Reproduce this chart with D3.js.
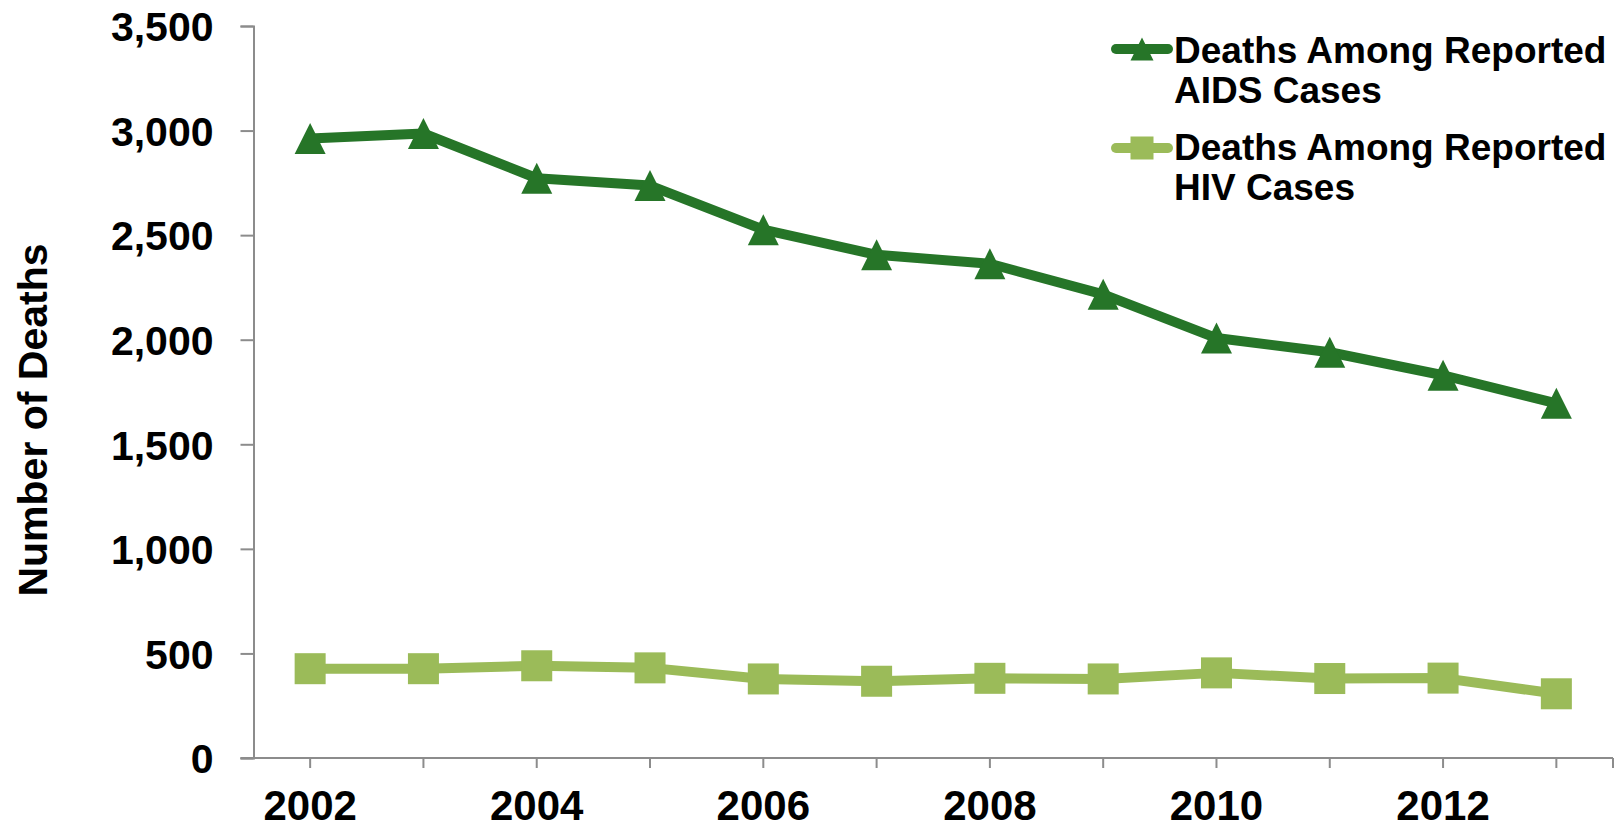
<!DOCTYPE html>
<html>
<head>
<meta charset="utf-8">
<script src="https://cdn.jsdelivr.net/npm/d3@7"></script>
<style>
  html, body { margin: 0; padding: 0; background: #fff; }
  svg { display: block; }
  text { font-family: "Liberation Sans", Arial, sans-serif; font-weight: bold; fill: #000; }
</style>
</head>
<body>
<svg id="chart" width="1620" height="829"></svg>
<script>
const years = [2002, 2003, 2004, 2005, 2006, 2007, 2008, 2009, 2010, 2011, 2012, 2013];
const aidsDeaths = [2962, 2986, 2772, 2737, 2526, 2406, 2363, 2217, 2008, 1940, 1830, 1696];
const hivDeaths = [427, 427, 441, 431, 378, 367, 381, 378, 407, 380, 382, 307];
const yTicks = [0, 500, 1000, 1500, 2000, 2500, 3000, 3500];
const xLabelYears = [2002, 2004, 2006, 2008, 2010, 2012];
const seriesNames = [["Deaths Among Reported", "AIDS Cases"], ["Deaths Among Reported", "HIV Cases"]];
const yTitle = "Number of Deaths";

const colors = { aids: "#267528", hiv: "#9bbb59", axis: "#8c8c8c" };

const svg = d3.select("#chart");
const plot = { left: 253.5, right: 1613, top: 26, bottom: 758 };

const x = d3.scaleBand().domain(years).range([plot.left, plot.right]).padding(0);
const cx = d => x(d) + x.bandwidth() / 2;
const y = d3.scaleLinear().domain([0, 3500]).range([plot.bottom, plot.top]);

// Y axis
const yAxis = d3.axisLeft(y).tickValues(yTicks).tickSize(13).tickFormat(d3.format(","));
const gy = svg.append("g").attr("transform", `translate(${plot.left},0)`).call(yAxis);
gy.select(".domain").attr("stroke", colors.axis).attr("stroke-width", 2);
gy.selectAll(".tick line").attr("stroke", colors.axis).attr("stroke-width", 2);
gy.selectAll(".tick text")
  .attr("x", -40).attr("dy", "0.36em")
  .style("font-size", "41px").attr("fill", "#000");

// X axis
const gx = svg.append("g").attr("transform", `translate(0,${plot.bottom})`);
gx.append("line").attr("x1", plot.left - 13).attr("x2", plot.right)
  .attr("y1", 0).attr("y2", 0).attr("stroke", colors.axis).attr("stroke-width", 2);
const tickXs = years.map(cx).concat([plot.right]);
gx.selectAll("line.xt").data(tickXs).enter().append("line").attr("class", "xt")
  .attr("x1", d => d).attr("x2", d => d).attr("y1", 0).attr("y2", 10)
  .attr("stroke", colors.axis).attr("stroke-width", 2);
gx.selectAll("text.xl").data(xLabelYears).enter().append("text").attr("class", "xl")
  .attr("x", d => cx(d)).attr("y", 62).attr("text-anchor", "middle")
  .style("font-size", "42px").text(d => d);

// Y title
svg.append("text")
  .attr("transform", `translate(47,420) rotate(-90)`)
  .attr("text-anchor", "middle")
  .style("font-size", "41px")
  .text(yTitle);

const line = d3.line().x((d, i) => cx(years[i])).y(d => y(d));

function triPath(s) {
  const h = s;
  return `M0,${-h/2} L${s/2},${h/2} L${-s/2},${h/2} Z`;
}

// HIV series
svg.append("path").datum(hivDeaths).attr("d", line)
  .attr("fill", "none").attr("stroke", colors.hiv).attr("stroke-width", 10)
  .attr("stroke-linejoin", "round");
svg.selectAll("rect.hiv").data(hivDeaths).enter().append("rect").attr("class", "hiv")
  .attr("x", (d, i) => cx(years[i]) - 15.5).attr("y", d => y(d) - 15.5)
  .attr("width", 31).attr("height", 31).attr("fill", colors.hiv);

// AIDS series
svg.append("path").datum(aidsDeaths).attr("d", line)
  .attr("fill", "none").attr("stroke", colors.aids).attr("stroke-width", 10)
  .attr("stroke-linejoin", "round");
svg.selectAll("path.aids").data(aidsDeaths).enter().append("path").attr("class", "aids")
  .attr("transform", (d, i) => `translate(${cx(years[i])},${y(d)})`)
  .attr("d", triPath(31)).attr("fill", colors.aids);

// Legend
const legend = svg.append("g");
const legendItems = [
  { name: seriesNames[0], color: colors.aids, marker: "tri", cy: 49, base: 63 },
  { name: seriesNames[1], color: colors.hiv, marker: "sq", cy: 148, base: 160 }
];
legendItems.forEach(it => {
  legend.append("line").attr("x1", 1116).attr("x2", 1168).attr("y1", it.cy).attr("y2", it.cy)
    .attr("stroke", it.color).attr("stroke-width", 10).attr("stroke-linecap", "round");
  if (it.marker === "tri") {
    legend.append("path").attr("transform", `translate(1142,${it.cy})`)
      .attr("d", triPath(23)).attr("fill", it.color);
  } else {
    legend.append("rect").attr("x", 1142 - 11.5).attr("y", it.cy - 11.5)
      .attr("width", 23).attr("height", 23).attr("fill", it.color);
  }
  it.name.forEach((t, j) => {
    legend.append("text").attr("x", 1174).attr("y", it.base + j * 40)
      .style("font-size", "37px").text(t);
  });
});
</script>
</body>
</html>
